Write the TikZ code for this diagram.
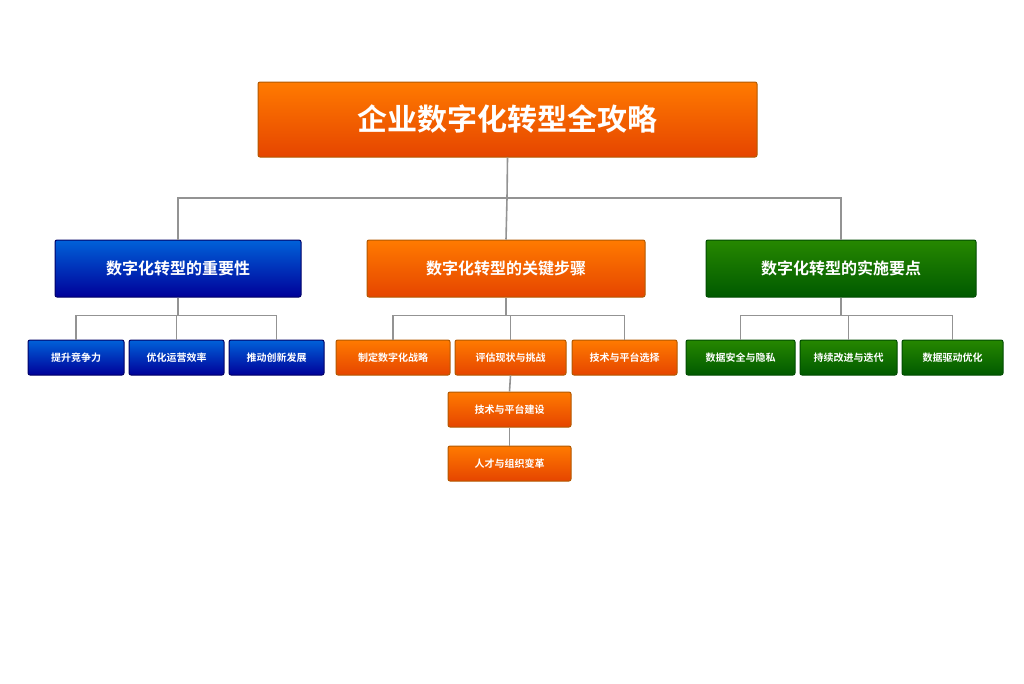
\documentclass[tikz,border=0pt]{standalone}
\usepackage{fontspec}
\newfontfamily\cjk{Noto Sans CJK SC}[BoldFont={Noto Sans CJK SC Bold}]
\begin{document}
\begin{tikzpicture}[x=1pt,y=-1pt,
  box/.style={rounded corners=2pt,line width=1pt,text=white,font=\cjk\bfseries,inner sep=0pt},
  og/.style={box,draw=orange!70!black,top color=orange!70!red!80!yellow,bottom color=orange!60!red!90!black},
  bl/.style={box,draw=blue!40!black,top color=blue!55!cyan!85!black,bottom color=blue!60!black},
  gr/.style={box,draw=green!30!black,top color=green!45!black!85!yellow,bottom color=green!35!black},
  ln/.style={draw=gray!85,line width=1.6pt}]
\useasboundingbox (0,0) rectangle (1024,683);
\newcommand\bx[7]{\node[#1,minimum width=#4-#2,minimum height=#5-#3,font=\cjk\bfseries#7] (#6) at ({(#2+#4)/2},{(#3+#5)/2}) {};}
\node[og,minimum width=499,minimum height=75,font=\cjk\bfseries\fontsize{30}{32}\selectfont] (t) at (507.5,119.5) {企业数字化转型全攻略};
\node[bl,minimum width=246,minimum height=57,font=\cjk\bfseries\fontsize{16}{18}\selectfont] (b) at (178,268.5) {数字化转型的重要性};
\node[og,minimum width=278,minimum height=57,font=\cjk\bfseries\fontsize{16}{18}\selectfont] (o) at (506,268.5) {数字化转型的关键步骤};
\node[gr,minimum width=270,minimum height=57,font=\cjk\bfseries\fontsize{16}{18}\selectfont] (g) at (841,268.5) {数字化转型的实施要点};
\tikzset{sm/.style={minimum height=35,font=\cjk\bfseries\fontsize{10}{12}\selectfont}}
\node[bl,sm,minimum width=96] (b1) at (76,357.5) {提升竞争力};
\node[bl,sm,minimum width=95] (b2) at (176.5,357.5) {优化运营效率};
\node[bl,sm,minimum width=95] (b3) at (276.5,357.5) {推动创新发展};
\node[og,sm,minimum width=114] (o1) at (393,357.5) {制定数字化战略};
\node[og,sm,minimum width=111] (o2) at (510.5,357.5) {评估现状与挑战};
\node[og,sm,minimum width=105] (o3) at (624.5,357.5) {技术与平台选择};
\node[og,sm,minimum width=123] (o4) at (509.5,409.5) {技术与平台建设};
\node[og,sm,minimum width=123] (o5) at (509.5,463.5) {人才与组织变革};
\node[gr,sm,minimum width=109] (g1) at (740.5,357.5) {数据安全与隐私};
\node[gr,sm,minimum width=97] (g2) at (848.5,357.5) {持续改进与迭代};
\node[gr,sm,minimum width=101] (g3) at (952.5,357.5) {数据驱动优化};
\begin{scope}[on background layer/.style={}]
\coordinate (h) at (507,198);
\draw[ln] (t.south) -- (h);
\draw[ln] (b.north) |- (h) -| (g.north);
\draw[ln] (h) -- (o.north);
\foreach \p/\a/\c in {b/b1/b3,o/o1/o3,g/g1/g3}{
  \draw[ln] (\p.south) -- ++(0,18) coordinate (m\p);
  \draw[ln] (\a.north) |- (m\p) -| (\c.north);}
\draw[ln] (b2.north) -- (b2.north|-mb);
\draw[ln] (g2.north) -- (g2.north|-mg);
\draw[ln] (o2.north) -- (o2.north|-mo);
\draw[ln] (o2.south) -- (o4.north);
\draw[ln] (o4.south) -- (o5.north);
\end{scope}
\end{tikzpicture}
\end{document}
